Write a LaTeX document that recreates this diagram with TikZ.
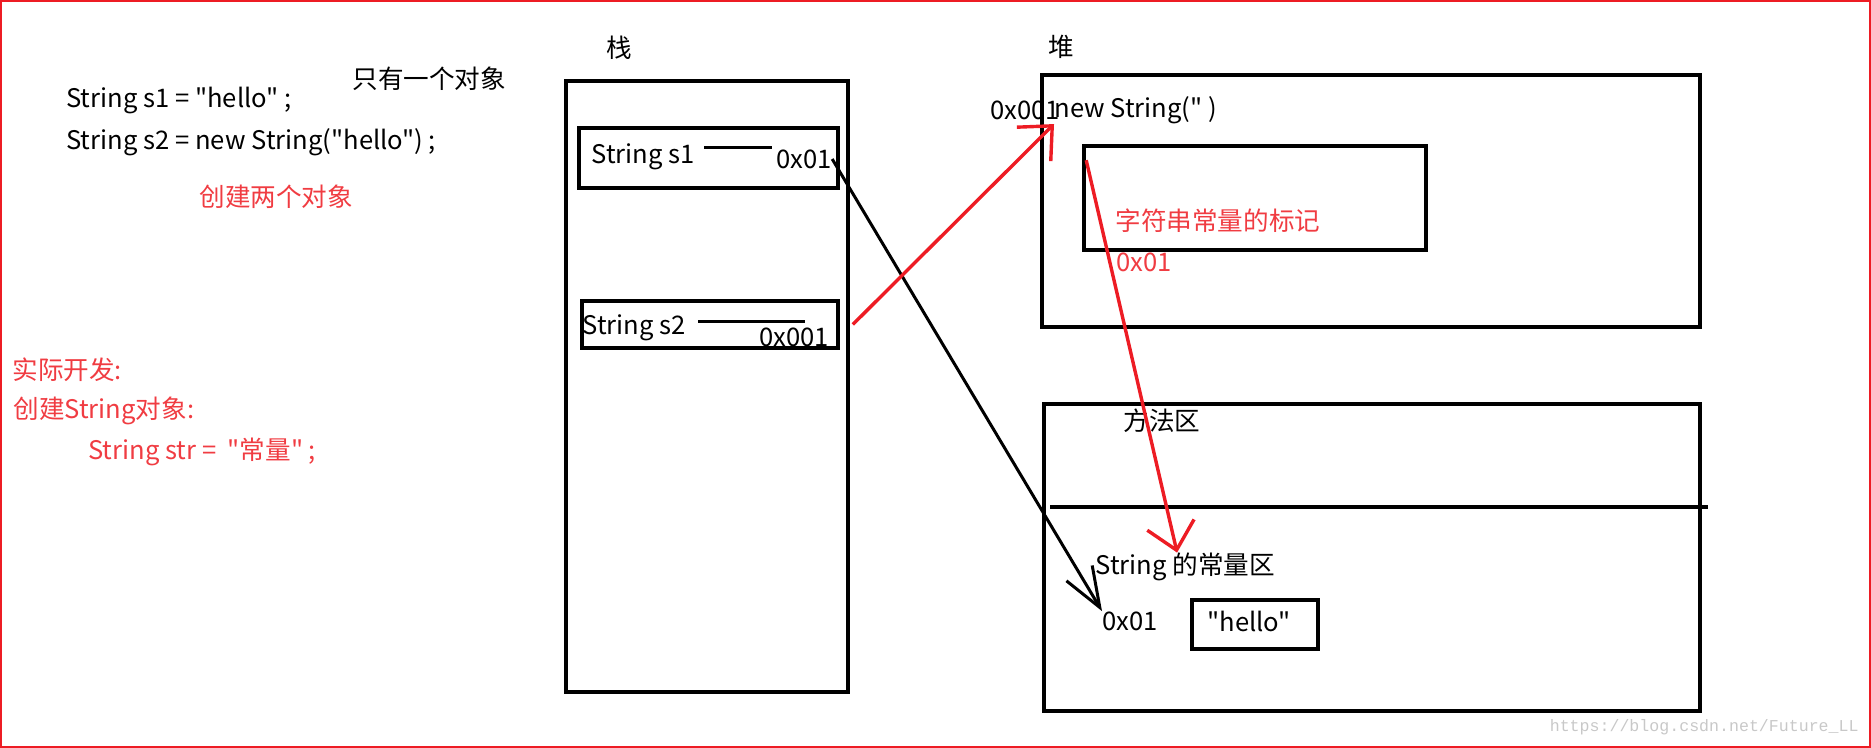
\documentclass[tikz,border=0pt]{standalone}
\usepackage{fontspec}
\setmainfont{Noto Sans CJK SC}[Ligatures=TeXOff]
\newfontfamily\urlfont{Liberation Mono}
\usetikzlibrary{arrows.meta}
\definecolor{paintred}{RGB}{237,28,36}
\definecolor{notered}{RGB}{240,60,66}
\definecolor{urlgray}{RGB}{200,200,200}
\tikzset{memorybox/.style={draw=black,line width=1.8pt,inner sep=0pt}}
\tikzset{codetext/.style={anchor=west,inner sep=0pt,font=\fontsize{12.8}{15}\selectfont}}
\tikzset{redtext/.style={codetext,text=notered}}
\tikzset{redpointer/.style={-{Straight Barb[length=13pt,width=24pt]},line width=1.7pt,paintred}}
\tikzset{blackpointer/.style={-{Straight Barb[length=20pt,width=15pt]},line width=1.5pt,black}}

\begin{document}
\begin{tikzpicture}[x=0.5pt,y=-0.5pt]
	\useasboundingbox (0,0) rectangle (1871,748);
	\draw[paintred,line width=1pt] (1,1) rectangle (1870,747);
	% left side notes
	\node[codetext] (code1) at (66,101) {String s1 = "hello" ;};
	\node[codetext] (code2) at (66,142) {String s2 = new String("hello") ;};
	\node[codetext] (oneobj) at (352,79) {只有一个对象};
	\node[redtext] (twoobj) at (199,197) {创建两个对象};
	\node[redtext] (practice) at (12,370) {实际开发:};
	\node[redtext] (create) at (13,411) {创建String对象:};
	\node[redtext] (literal) at (88,452) {String str =\ \ "常量" ;};
	% stack
	\node[codetext] (stacktitle) at (606,48) {栈};
	\node[memorybox,minimum width=141pt,minimum height=305.5pt] (stack) at (707,386.5) {};
	\node[memorybox,minimum width=129.5pt,minimum height=30pt] (s1) at (708.5,158) {};
	\node[codetext] (s1name) at (591,157) {String s1};
	\draw[line width=1.5pt] (704,148) -- (772,148);
	\node[codetext] (s1addr) at (776,159) {0x01};
	\node[memorybox,minimum width=128pt,minimum height=23.5pt] (s2) at (710,324.5) {};
	\node[codetext] (s2name) at (582,328) {String s2};
	\draw[line width=1.5pt] (698,322) -- (805,322);
	\node[codetext] (s2addr) at (759,337) {0x001};
	% heap
	\node[codetext] (heaptitle) at (1048,47) {堆};
	\node[memorybox,minimum width=329pt,minimum height=126pt] (heap) at (1371,201) {};
	\node[codetext] (heapaddr) at (990,110) {0x001};
	\node[codetext] (nstr) at (1054,110) {new String(" )};
	\node[memorybox,minimum width=171pt,minimum height=52pt] (mark) at (1255,198) {};
	\node[redtext] (marktext) at (1115,221) {字符串常量的标记};
	\node[redtext] (markaddr) at (1116,262) {0x01};
	% method area
	\node[memorybox,minimum width=328pt,minimum height=153.5pt] (method) at (1372,557.5) {};
	\node[codetext] (methodtitle) at (1123,421) {方法区};
	\draw[line width=1.6pt] (1050,507) -- (1708,507);
	\node[codetext] (pool) at (1095,567) {String 的常量区};
	\node[codetext] (pooladdr) at (1102,621) {0x01};
	\node[memorybox,minimum width=63pt,minimum height=24.5pt] (hellobox) at (1255,624.5) {};
	\node[codetext] (hello) at (1207,621) {"hello"};
	% pointers
	\draw[blackpointer] (s1addr.east) -- (pooladdr.north west);
	\draw[redpointer] ([xshift=6.5pt]s2.east) -- (nstr.south west);
	\draw[redpointer] ([xshift=2pt,yshift=-8pt]mark.north west) -- ([xshift=-4pt]pool.north);
	\node[anchor=east,inner sep=0pt,text=urlgray,font=\urlfont\fontsize{8.3}{10}\selectfont] (blogurl) at (1859,727) {https://blog.csdn.net/Future\_LL};
\end{tikzpicture}
\end{document}
